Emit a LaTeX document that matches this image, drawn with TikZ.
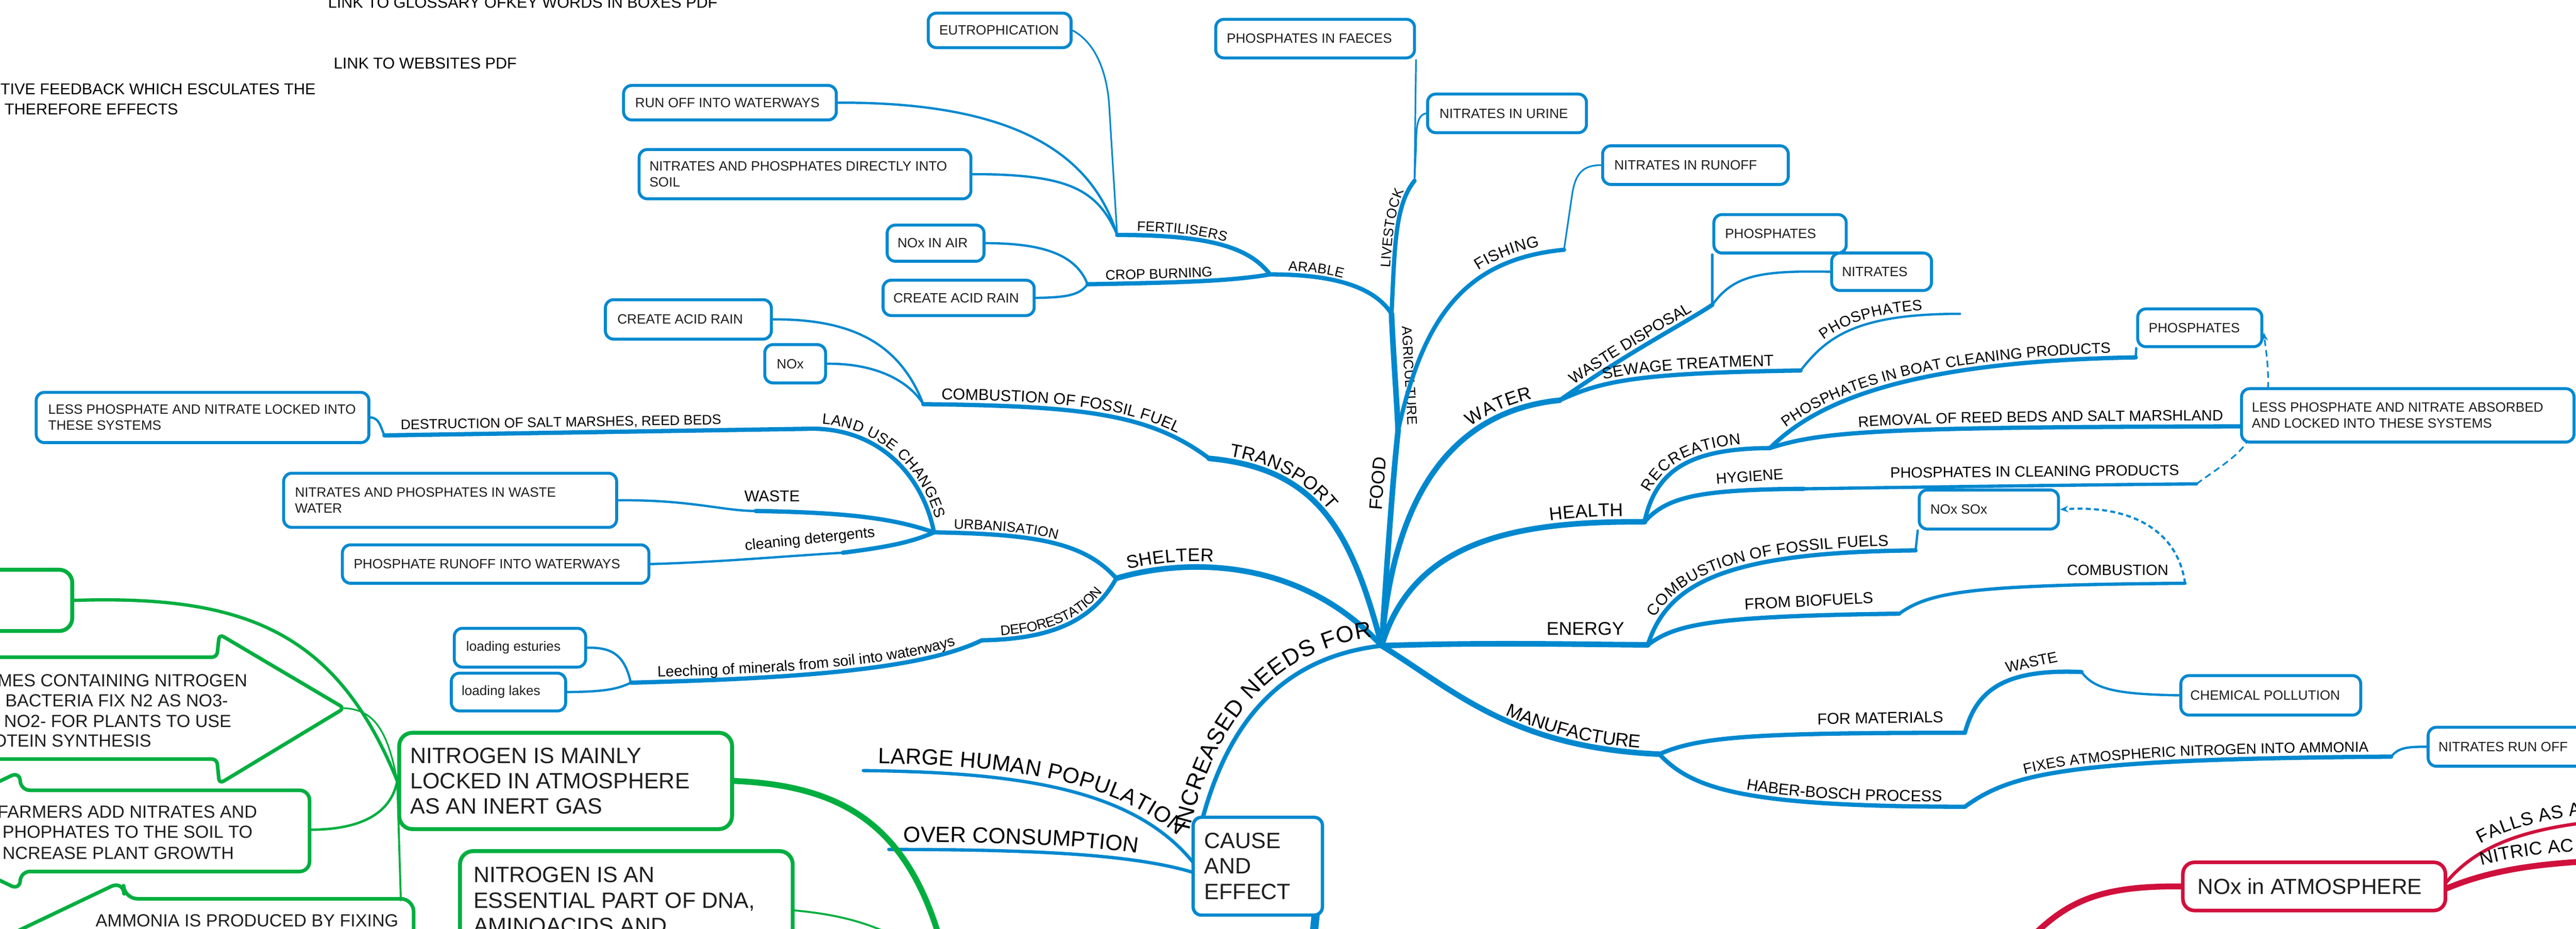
\documentclass[tikz,border=0pt]{standalone}
\usepackage{fontspec}
\setmainfont{Liberation Sans}
\usetikzlibrary{decorations.text,arrows.meta}
\pgfdeclarelayer{bg}
\pgfsetlayers{bg,main}
\definecolor{mblue}{RGB}{0,136,207}
\definecolor{mgreen}{RGB}{0,174,64}
\definecolor{mred}{RGB}{208,16,60}
\definecolor{btxt}{RGB}{30,30,30}
\newcommand\fz[2]{\fontsize{#1}{#2}\selectfont}
\newcommand\fzs{\fz{8.4}{10}}
\newcommand\fzp{\fz{9.1}{11}}
\newcommand\fzb{\fz{9.6}{11.5}}
\newcommand\fzc{\fz{11.2}{13.4}}
\newcommand\fzL{\fz{13.4}{15.5}}
\newcommand\fzI{\fz{14}{16}}
\newcommand\bbx[7]{%
 \node[bbox,minimum width=#4pt,minimum height=#5pt] (#1) at (#2,#3) {};
 \node[btext,anchor=west] (#1-t) at ([xshift=#6pt]#1.west) {#7};}
\begin{document}
\begin{tikzpicture}[x=1pt,y=-1pt,line join=round,
 bbox/.style={draw=mblue,line width=1.8pt,rounded corners=5pt,fill=white,inner sep=0pt},
 gbox/.style={draw=mgreen,line width=2.4pt,rounded corners=8pt,fill=white,inner sep=0pt},
 rbox/.style={draw=mred,line width=2.2pt,rounded corners=7pt,fill=white,inner sep=0pt},
 btext/.style={inner sep=0pt,align=left,font=\fz{8.2}{9.6},text=btxt},
 bigtext/.style={inner sep=0pt,align=left,font=\fz{13.5}{15.5},text=btxt},
 lbl/.style={inner sep=0pt,text=black},
 br0/.style={draw=mblue,line width=3.4pt,line cap=round},
 br1/.style={draw=mblue,line width=2.6pt,line cap=round},
 br2/.style={draw=mblue,line width=2pt,line cap=round},
 br3/.style={draw=mblue,line width=1.4pt,line cap=round},
 leaf/.style={draw=mblue,line width=1pt},
 dsh/.style={draw=mblue,line width=1pt,dash pattern=on 4pt off 2.5pt},
 dshb/.style={draw=mblue,line width=1.3pt,dash pattern=on 3pt off 2pt},
 gl/.style={draw=mgreen,line cap=round},
 rl/.style={draw=mred,line cap=round},
 lab/.style n args={4}{postaction={decorate,decoration={text along path,text={|\color{black}#1|#2},text align={#4},raise=#3}}}
]
\useasboundingbox (0,0) rectangle (1568,565.2);

% ---------- coordinates ----------
\coordinate (C) at (841,393);
\coordinate (Jfood) at (851,262);
\coordinate (Jagr) at (847,191);
\coordinate (Jlive) at (861,110);
\coordinate (Jarab) at (773,167);
\coordinate (Jfert) at (680,143);
\coordinate (Jcrop) at (662,173);
\coordinate (Jfish) at (952,152);
\coordinate (Jtrans) at (736,279);
\coordinate (Jcomb) at (562,246);
\coordinate (Jshel) at (679.5,352);
\coordinate (Jurb) at (568.5,324);
\coordinate (Jland) at (490,261);
\coordinate (Jdes) at (234,265);
\coordinate (Jwst) at (460,311);
\coordinate (Jcln) at (513,336.4);
\coordinate (Jdef) at (597.6,389.7);
\coordinate (Jleach) at (384,415.5);
\coordinate (Jinc) at (727.6,517);
\coordinate (Jlhp) at (525.5,469);
\coordinate (Jlhe) at (726.3,525);
\coordinate (Joc) at (541,517);
\coordinate (Joce) at (726.3,531);
\coordinate (Jw) at (949.4,243.6);
\coordinate (Jwd) at (1042.3,185.5);
\coordinate (Jsew) at (1096,225.5);
\coordinate (Jsewp) at (1193,191);
\coordinate (Jh) at (1001,317.6);
\coordinate (Jrec) at (1077.4,272.7);
\coordinate (Jboat) at (1300,217.5);
\coordinate (Jless) at (1364.4,259.5);
\coordinate (Jhyg) at (1098,297.5);
\coordinate (Jclean) at (1337,294.5);
\coordinate (Jlbl) at (1368,268.5);
\coordinate (Jltop) at (1380.5,236.5);
\coordinate (Jpbr) at (1378,202.5);
\coordinate (Je) at (1003,392.5);
\coordinate (Jcff) at (1166,335);
\coordinate (Jbio) at (1156,373.5);
\coordinate (Jcomb2) at (1330,355);
\coordinate (Jm) at (1010,459);
\coordinate (Jfm) at (1196,446);
\coordinate (Jmw) at (1267,409);
\coordinate (Jhb) at (1196,491);
\coordinate (Jfix) at (1455.5,460.5);
\coordinate (Jcs1) at (801,555);
\coordinate (Jcs2) at (799.5,570);
\coordinate (Rbot) at (1239,568);
\coordinate (Rf0) at (1489,537);
\coordinate (Rf1) at (1580,500);
\coordinate (Rn0) at (1488.5,541);
\coordinate (Rn1) at (1580,524);
\coordinate (mtip) at (209.6,431);
\coordinate (frm) at (188.4,505);
\coordinate (amm) at (244,548);
\coordinate (gb1) at (571,568);
\coordinate (nessr) at (482.5,554);
\coordinate (gb2) at (545,570);

% ---------- top-left texts ----------
\node[lbl,anchor=base west,font=\fz{9.6}{11}] (t1) at (199.5,5) {LINK TO GLOSSARY OFKEY WORDS IN BOXES PDF};
\node[lbl,anchor=base west,font=\fz{9.6}{11}] (t2) at (203,42) {LINK TO WEBSITES PDF};
\node[lbl,anchor=base east,font=\fz{9.6}{11}] (t3) at (192.3,57.4) {TIVE FEEDBACK WHICH ESCULATES THE};
\node[lbl,anchor=base west,font=\fz{9.6}{11}] (t4) at (2.6,69.7) {THEREFORE EFFECTS};

% ---------- blue boxes ----------
\bbx{eutro}{608.5}{18.5}{87}{21}{7.4}{EUTROPHICATION}
\bbx{runoff}{444.3}{62.5}{129.5}{21}{7.8}{RUN OFF INTO WATERWAYS}
\bbx{npsoil}{490}{106}{202}{30}{7}{NITRATES AND PHOSPHATES DIRECTLY INTO\\SOIL}
\bbx{noxair}{569.5}{148}{59}{22}{7}{NOx IN AIR}
\bbx{acidA}{583.5}{181.3}{92}{21.5}{7}{CREATE ACID RAIN}
\bbx{acidB}{419}{194.4}{101}{24}{8}{CREATE ACID RAIN}
\bbx{nox}{484}{221.4}{37}{23.3}{8}{NOx}
\bbx{faeces}{800.5}{23.5}{121}{23.5}{7.4}{PHOSPHATES IN FAECES}
\bbx{urine}{917.3}{69}{96.7}{23.5}{8}{NITRATES IN URINE}
\bbx{nrunoff}{1032}{100.5}{113}{23.5}{7.8}{NITRATES IN RUNOFF}
\bbx{phosA}{1083.5}{142.3}{80.6}{23.4}{7.5}{PHOSPHATES}
\bbx{nitr}{1145.3}{165.4}{60.8}{22.8}{7}{NITRATES}
\bbx{phosB}{1339}{199.5}{75.6}{23}{7.4}{PHOSPHATES}
\bbx{lessB}{1465.6}{252.8}{202.4}{32.5}{7}{LESS PHOSPHATE AND NITRATE ABSORBED\\AND LOCKED INTO THESE SYSTEMS}
\bbx{noxsox}{1210.6}{310.1}{84.8}{23.8}{7.5}{NOx SOx}
\bbx{chem}{1382.2}{423.2}{109.5}{24}{6.5}{CHEMICAL POLLUTION}
\bbx{nro}{1539}{454.5}{122}{23.7}{7}{NITRATES RUN OFF}
\bbx{lessA}{123.3}{254.1}{202.5}{30.6}{8}{LESS PHOSPHATE AND NITRATE LOCKED INTO\\THESE SYSTEMS}
\bbx{wwater}{274}{304.5}{202.7}{33}{7.6}{NITRATES AND PHOSPHATES IN WASTE\\WATER}
\bbx{prunoff}{301.7}{343.3}{186.6}{23.4}{7.6}{PHOSPHATE RUNOFF INTO WATERWAYS}
\bbx{estur}{316.5}{394.2}{80}{23.6}{8}{loading esturies}
\bbx{lakes}{309.5}{421.2}{69.6}{23}{7}{loading lakes}
\node[bbox,line width=2pt,minimum width=78.7pt,minimum height=59.5pt] (cause) at (765.6,527.2) {};
\node[bigtext,anchor=west] (cause-t) at ([xshift=7.7pt]cause.west) {CAUSE\\AND\\EFFECT};

% ---------- green boxes ----------
\node[gbox,minimum width=64pt,minimum height=37.3pt] (gtop) at (12,365.4) {};
\node[gbox,minimum width=202.6pt,minimum height=58.6pt] (nmain) at (344.3,475.3) {};
\node[bigtext,anchor=west] (nmain-t) at ([xshift=7.8pt]nmain.west) {NITROGEN IS MAINLY\\LOCKED IN ATMOSPHERE\\AS AN INERT GAS};
\node[gbox,minimum width=202.5pt,minimum height=110pt] (ness) at (381.25,573) {};
\node[bigtext,anchor=north west] (ness-t) at (288,527.5) {NITROGEN IS AN\\ESSENTIAL PART OF DNA,\\AMINOACIDS AND};

\draw[gl,line width=2.2pt,rounded corners=3pt] (-20,400) -- (132,400) -- (133.5,386) -- (mtip) -- (133.5,477) -- (132,462) -- (-20,462);
\draw[gl,line width=2.2pt,rounded corners=6pt] (-63,505.6) -- (12.3,469.5) -- (12.3,481) -- (188.4,481) -- (188.4,530.4) -- (12.3,530.4) -- (12.3,541.8) -- cycle;
\draw[gl,line width=2.2pt,rounded corners=8pt] (-10,576.5) -- (75,536) -- (75.7,547) -- (251.8,547) -- (251.8,600);

\node[lbl,anchor=base east,font=\fz{10.7}{12.5},text=btxt] (m1) at (150.7,417.9) {MES CONTAINING NITROGEN};
\node[lbl,anchor=base east,font=\fz{10.7}{12.5},text=btxt] (m2) at (139,430.2) {BACTERIA FIX N2 AS NO3-};
\node[lbl,anchor=base east,font=\fz{10.7}{12.5},text=btxt] (m3) at (141,442.6) {NO2- FOR PLANTS TO USE};
\node[lbl,anchor=base east,font=\fz{10.7}{12.5},text=btxt] (m4) at (92.3,454.5) {OTEIN SYNTHESIS};
\node[lbl,anchor=base east,font=\fz{10.7}{12.5},text=btxt] (f1) at (156.7,497.8) {FARMERS ADD NITRATES AND};
\node[lbl,anchor=base east,font=\fz{10.7}{12.5},text=btxt] (f2) at (153.9,510.2) {PHOPHATES TO THE SOIL TO};
\node[lbl,anchor=base east,font=\fz{10.7}{12.5},text=btxt] (f3) at (142.6,522.8) {NCREASE PLANT GROWTH};
\node[lbl,anchor=base west,font=\fz{10.7}{12.5},text=btxt] (a1) at (58,564.1) {AMMONIA IS PRODUCED BY FIXING};

% ---------- red box ----------
\node[rbox,minimum width=159.8pt,minimum height=29.3pt] (natm) at (1408.6,539.5) {};
\node[inner sep=0pt,font=\fz{13.3}{15},text=btxt] (natm-t) at (1406,539.5) {NOx in ATMOSPHERE};

% ---------- plain labels ----------
\node[lbl,font=\fzb] (lwaste) at (470,302) {WASTE};
\node[lbl,font=\fzp,rotate=6] (lclean) at (493,328.5) {cleaning detergents};
\node[lbl,font=\fzp,rotate=4] (lhyg) at (1065,290) {HYGIENE};
\node[lbl,font=\fzp,rotate=0.5] (lpcp) at (1238.5,287) {PHOSPHATES IN CLEANING PRODUCTS};
\node[lbl,font=\fzc] (lenergy) at (965,382.6) {ENERGY};
\node[lbl,font=\fzb,rotate=3] (lbio) at (1101,365.7) {FROM BIOFUELS};
\node[lbl,font=\fzp] (lcomb) at (1289,347) {COMBUSTION};
\node[lbl,font=\fzb,rotate=1] (lfm) at (1144.5,437) {FOR MATERIALS};
\node[lbl,font=\fzp,rotate=12] (lmw) at (1236.5,403) {WASTE};

% ---------- connectors ----------
\begin{pgfonlayer}{bg}
\fill[white] (0,0) rectangle (1568,565.2);
% FOOD side
\draw[br0,lab={\fzc}{FOOD}{5.5pt}{left indent=82pt}] (C) .. controls (845,330) and (848,290) .. (Jfood);
\draw[br0,lab={\fzs}{AGRICULTURE}{6pt}{left indent=8pt}] (Jagr) .. controls (848,215) and (850,240) .. (Jfood);
\draw[br1,lab={\fzs}{LIVESTOCK}{2pt}{left indent=28pt}] (Jagr) .. controls (849,150) and (849,125) .. (Jlive);
\draw[leaf] (Jlive) -- (faeces.south east);
\draw[leaf] (Jlive) -- (862,88) .. controls (862,76) and (863,70) .. (urine.west);
\draw[br1,lab={\fzs}{ARABLE}{2.5pt}{left indent=11pt}] (Jarab) .. controls (805,167) and (835,172) .. (Jagr);
\draw[br1,lab={\fzs}{FERTILISERS}{2.5pt}{left indent=12pt}] (Jfert) .. controls (735,143) and (760,150) .. (Jarab);
\draw[br1,lab={\fzs}{CROP BURNING}{2.5pt}{left indent=11pt}] (Jcrop) .. controls (720,172) and (750,171) .. (Jarab);
\draw[leaf] (Jfert) -- (675,62) .. controls (673,40) and (665,25) .. (eutro.east);
\draw[br3] (Jfert) .. controls (665,95) and (620,62) .. (runoff.east);
\draw[br3] (Jfert) .. controls (668,115) and (650,106) .. (npsoil.east);
\draw[br3] (Jcrop) .. controls (655,155) and (635,148) .. (noxair.east);
\draw[br3] (Jcrop) .. controls (657,180) and (648,181) .. (acidA.east);
\draw[br1,lab={\fzb}{FISHING}{4pt}{right,right indent=14pt}] (Jfood) .. controls (866,195) and (890,158) .. (Jfish);
\draw[leaf] (Jfish) -- (957,118) .. controls (959,105) and (964,100.5) .. (nrunoff.west);
% TRANSPORT
\draw[br0,lab={\fzc}{TRANSPORT}{3pt}{left indent=12pt}] (Jtrans) .. controls (800,285) and (822,320) .. (C);
\draw[br1,lab={\fzb}{COMBUSTION OF FOSSIL FUEL}{3pt}{left indent=11pt}] (Jcomb) .. controls (660,247) and (700,252) .. (Jtrans);
\draw[br3] (acidB.east) .. controls (520,194) and (548,210) .. (Jcomb);
\draw[br3] (nox.east) .. controls (530,221) and (552,230) .. (Jcomb);
% SHELTER
\draw[br0,lab={\fzc}{SHELTER}{3.5pt}{left indent=8pt}] (Jshel) .. controls (720,340) and (790,338) .. (C);
\draw[br1,lab={\fzs}{URBANISATION}{2.5pt}{left indent=12pt}] (Jurb) .. controls (630,325) and (660,330) .. (Jshel);
\draw[br1,lab={\fzp}{LAND USE CHANGES}{3pt}{left indent=10pt}] (Jland) .. controls (535,259) and (562,290) .. (Jurb);
\draw[br1,lab={\fzs}{DESTRUCTION OF SALT MARSHES, REED BEDS}{3.5pt}{left indent=10pt}] (Jdes) -- (Jland);
\draw[br3] (lessA.east) .. controls (231,254) and (232,261) .. (Jdes);
\draw[br3] (wwater.east) .. controls (420,304) and (440,311) .. (Jwst);
\draw[br1] (Jwst) .. controls (520,312) and (545,316) .. (Jurb);
\draw[br3] (prunoff.east) .. controls (440,342) and (470,339) .. (Jcln);
\draw[br1] (Jcln) .. controls (540,333) and (555,330) .. (Jurb);
\draw[br1,lab={\fzs}{DEFORESTATION}{2.5pt}{center}] (Jdef) .. controls (640,389) and (665,378) .. (Jshel);
\draw[br1,lab={\fzp}{Leeching of minerals from soil into waterways}{3pt}{center}] (Jleach) .. controls (480,413) and (560,408) .. (Jdef);
\draw[br3] (Jleach) .. controls (380,398) and (372,394) .. (estur.east);
\draw[br3] (Jleach) .. controls (375,420) and (365,421) .. (lakes.east);
% cause side
\draw[br1,lab={\fzI}{INCREASED NEEDS FOR}{6pt}{left indent=10pt}] (Jinc) .. controls (743,440) and (780,400) .. (C);
\draw[br2,lab={\fzL}{LARGE HUMAN POPULATION}{4.5pt}{left indent=9pt}] (Jlhp) .. controls (620,470) and (690,480) .. (Jlhe);
\draw[br2,lab={\fzL}{OVER CONSUMPTION}{4.5pt}{left indent=9pt}] (Joc) .. controls (630,517) and (690,520) .. (Joce);
\draw[draw=mblue,line width=5pt] (Jcs1) -- (Jcs2);
% WATER
\draw[br0,lab={\fzc}{WATER}{3.5pt}{right,right indent=16pt}] (C) .. controls (848,300) and (885,250) .. (Jw);
\draw[br1,lab={\fzb}{WASTE DISPOSAL}{3pt}{center}] (Jw) .. controls (990,215) and (1025,197) .. (Jwd);
\draw[br3] (Jwd) -- (phosA.south west);
\draw[br3] (Jwd) .. controls (1055,168) and (1070,164.5) .. (nitr.west);
\draw[br1,lab={\fzb}{SEWAGE TREATMENT}{3pt}{left indent=29pt}] (Jw) .. controls (975,232) and (995,227) .. (Jsew);
\draw[br3,lab={\fzp}{PHOSPHATES}{3pt}{center}] (Jsew) .. controls (1112,205) and (1130,191) .. (Jsewp);
% HEALTH
\draw[br0,lab={\fzc}{HEALTH}{3.5pt}{right,right indent=13pt}] (C) .. controls (860,330) and (920,317) .. (Jh);
\draw[br1,lab={\fzb}{RECREATION}{3pt}{center}] (Jh) .. controls (1008,285) and (1030,273) .. (Jrec);
\draw[br1,lab={\fzp}{PHOSPHATES IN BOAT CLEANING PRODUCTS}{3pt}{center}] (Jrec) .. controls (1105,245) and (1160,220) .. (Jboat);
\draw[br3] (Jboat) -- (phosB.south west);
\draw[br1,lab={\fzp}{REMOVAL OF REED BEDS AND SALT MARSHLAND}{3.5pt}{left indent=55pt}] (Jrec) .. controls (1110,262) and (1150,260) .. (Jless);
\draw[br1] (Jh) .. controls (1015,302) and (1035,298) .. (Jhyg);
\draw[br2] (Jhyg) .. controls (1200,296) and (1280,295) .. (Jclean);
\draw[dsh] (Jclean) .. controls (1350,285) and (1362,278) .. (Jlbl);
\draw[dsh,-{Stealth[length=5pt,width=4pt]}] (Jltop) .. controls (1381,222) and (1379,212) .. (Jpbr);
% ENERGY
\draw[br0] (C) .. controls (900,391) and (950,392) .. (Je);
\draw[br1,lab={\fzb}{COMBUSTION OF FOSSIL FUELS}{3pt}{center}] (Je) .. controls (1015,355) and (1050,336) .. (Jcff);
\draw[br3] (Jcff) -- (noxsox.south west);
\draw[br1] (Je) .. controls (1020,380) and (1040,375) .. (Jbio);
\draw[br2] (Jbio) .. controls (1175,360) and (1200,356) .. (Jcomb2);
\draw[dshb,-{Stealth[length=5pt,width=4pt]}] (Jcomb2) .. controls (1326,325) and (1300,307) .. (noxsox.east);
% MANUFACTURE
\draw[br0,lab={\fzc}{MANUFACTURE}{3pt}{right,right indent=12pt}] (C) .. controls (885,420) and (920,455) .. (Jm);
\draw[br1] (Jm) .. controls (1035,448) and (1070,446) .. (Jfm);
\draw[br1] (Jfm) .. controls (1203,420) and (1220,407) .. (Jmw);
\draw[br3] (Jmw) .. controls (1275,420) and (1290,422.5) .. (chem.west);
\draw[br1,lab={\fzb}{HABER-BOSCH PROCESS}{3pt}{right,right indent=14pt}] (Jm) .. controls (1030,480) and (1060,491) .. (Jhb);
\draw[br1,lab={\fz{8.8}{10.5}}{FIXES ATMOSPHERIC NITROGEN INTO AMMONIA}{3pt}{right,right indent=14pt}] (Jhb) .. controls (1225,470) and (1260,462) .. (Jfix);
\draw[br3] (Jfix) .. controls (1460,455) and (1465,454.5) .. (nro.west);
% red
\draw[rl,line width=3.6pt] (natm.west) .. controls (1280,539) and (1260,548) .. (Rbot);
\draw[rl,line width=2pt,lab={\fzc}{FALLS AS A}{5pt}{left indent=30pt}] (Rf0) .. controls (1505,518) and (1530,505) .. (Rf1);
\draw[rl,line width=3.6pt,lab={\fzc}{NITRIC AC}{6.5pt}{left indent=25pt}] (Rn0) .. controls (1510,532) and (1535,526) .. (Rn1);
% green
\draw[gl,line width=2pt] (gtop.east) .. controls (150,362) and (205,385) .. (nmain.west);
\draw[gl,line width=1pt] (mtip) .. controls (228,432) and (236,445) .. (nmain.west);
\draw[gl,line width=1.5pt] (frm) .. controls (220,505) and (238,495) .. (nmain.west);
\draw[gl,line width=1.2pt] (nmain.west) -- (amm);
\draw[gl,line width=3.6pt] (nmain.east) .. controls (510,478) and (550,500) .. (gb1);
\draw[gl,line width=1.2pt] (nessr) .. controls (505,556) and (525,560) .. (gb2);
\end{pgfonlayer}
\end{tikzpicture}
\end{document}
